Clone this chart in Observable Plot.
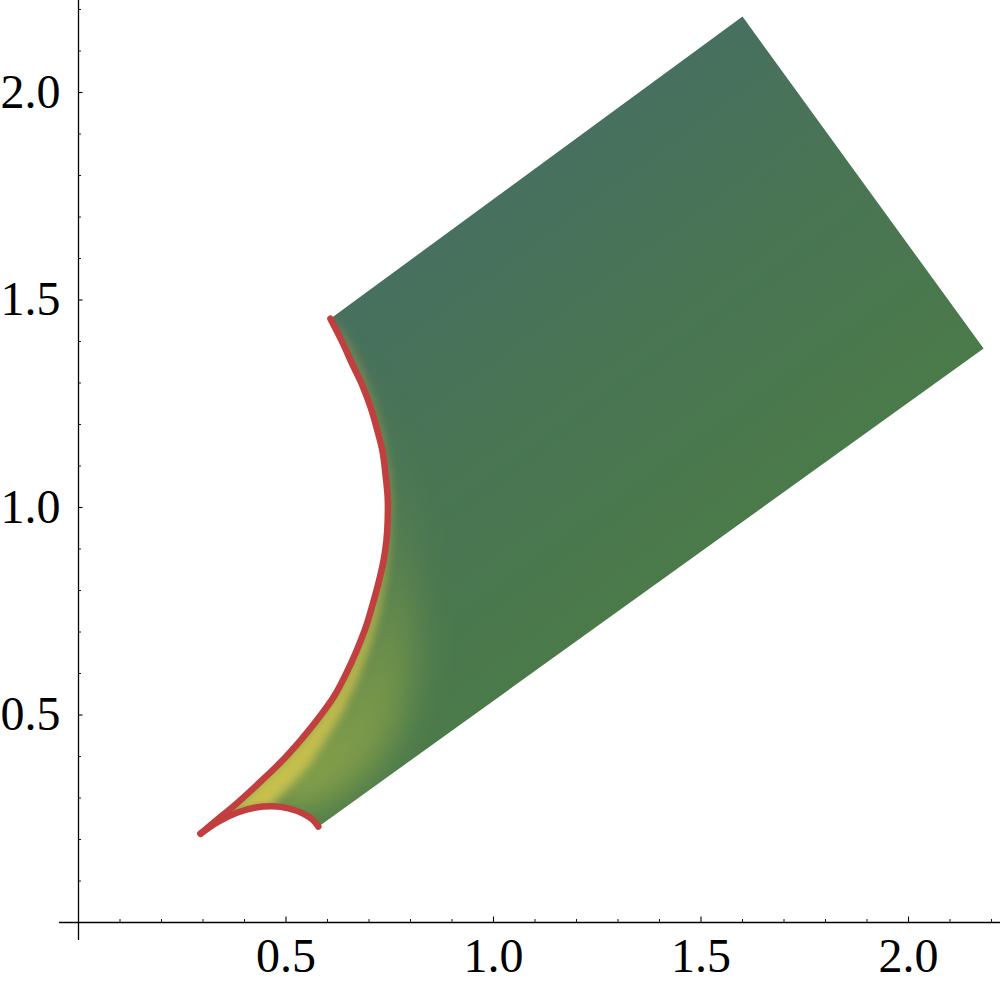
<!DOCTYPE html>
<html>
<head>
<meta charset="utf-8">
<script src="https://cdn.jsdelivr.net/npm/d3@7"></script>
<script src="https://cdn.jsdelivr.net/npm/@observablehq/plot@0.6"></script>
<style>
  html, body { margin: 0; padding: 0; background: #fff; }
  svg { display: block; }
</style>
</head>
<body>
<div id="chart"></div>
<script>
// ---- Data (data units) ----
// Red boundary curve, from the upper-left vertex down to the lower-left cusp
const leftCurve = [
  [0.607, 1.455], [0.634, 1.402], [0.660, 1.345], [0.684, 1.294], [0.704, 1.241],
  [0.720, 1.186], [0.733, 1.133], [0.740, 1.077], [0.745, 1.024], [0.745, 0.969],
  [0.742, 0.920], [0.735, 0.872], [0.723, 0.819], [0.708, 0.764], [0.692, 0.711],
  [0.670, 0.655], [0.646, 0.602], [0.617, 0.547], [0.578, 0.492], [0.535, 0.439],
  [0.487, 0.386], [0.434, 0.335], [0.378, 0.284], [0.328, 0.243], [0.294, 0.214]
];
// Small red arc from the cusp to the lower corner of the region
const bumpCurve = [
  [0.294, 0.214], [0.337, 0.243], [0.383, 0.265], [0.427, 0.277], [0.467, 0.280],
  [0.506, 0.275], [0.540, 0.263], [0.564, 0.248], [0.578, 0.231]
];
// Outer corners of the region (top, right)
const outerCorners = [[1.600, 2.183], [2.181, 1.383]];
// Where the yellow-green tint fades into the green (top to bottom)
const glowEdge = [
  [0.617, 1.455], [0.700, 1.294], [0.760, 1.133], [0.790, 0.969], [0.805, 0.824],
  [0.812, 0.680], [0.800, 0.559], [0.765, 0.451], [0.700, 0.360], [0.620, 0.300],
  [0.545, 0.262]
];
// Inner edge of the bright yellow strip along the red curve (bottom to top)
const brightEdge = [
  [0.475, 0.294], [0.511, 0.330], [0.555, 0.378], [0.596, 0.439], [0.636, 0.506],
  [0.672, 0.583], [0.703, 0.667], [0.726, 0.752], [0.742, 0.836], [0.752, 0.920],
  [0.755, 1.005], [0.749, 1.089], [0.735, 1.173], [0.711, 1.258], [0.678, 1.342],
  [0.642, 1.414], [0.612, 1.455]
];
// Axis ticks
const xMajorTicks = [0.5, 1.0, 1.5, 2.0];
const xTickLabels = ["0.5", "1.0", "1.5", "2.0"];
const yMajorTicks = [0.5, 1.0, 1.5, 2.0];
const yTickLabels = ["0.5", "1.0", "1.5", "2.0"];
const minorTicks = [0.1,0.2,0.3,0.4,0.6,0.7,0.8,0.9,1.1,1.2,1.3,1.4,1.6,1.7,1.8,1.9,2.1,2.2];

// ---- Layout ----
const W = 1000, H = 987;
const k = 415;              // pixels per data unit (same on both axes)
const x0px = 78, y0px = 922; // pixel position of the origin
const xDomain = [-x0px / k, (W - x0px) / k];
const yDomain = [-(H - y0px) / k, y0px / k];
const u = px => px / k;      // pixel length -> data length

const pts = a => a.map(([x, y]) => ({x, y}));
const region = pts([leftCurve[0], ...outerCorners, ...bumpCurve.slice().reverse(), ...leftCurve.slice().reverse()]);
const glowBand = pts([...leftCurve, ...bumpCurve.slice(0, 7), ...glowEdge.slice().reverse()]);
const brightBand = pts([...leftCurve, ...bumpCurve.slice(0, 5), ...brightEdge]);

const serif = "'Liberation Serif', 'Times New Roman', Times, serif";

const svg = Plot.plot({
  width: W, height: H,
  marginTop: 0, marginRight: 0, marginBottom: 0, marginLeft: 0,
  x: {domain: xDomain, axis: null},
  y: {domain: yDomain, axis: null},
  style: {background: "#fff"},
  marks: [
    Plot.line(region, {x: "x", y: "y", fill: "url(#regionGrad)", stroke: "none"}),
    Plot.line(glowBand, {x: "x", y: "y", fill: "url(#glowGrad)", stroke: "none"}),
    Plot.line(brightBand, {x: "x", y: "y", fill: "url(#brightGrad)", stroke: "none"}),
    Plot.line(pts(leftCurve), {x: "x", y: "y", curve: "catmull-rom", stroke: "#c13f3e", strokeWidth: 6.5, strokeLinecap: "round"}),
    Plot.line(pts(bumpCurve), {x: "x", y: "y", curve: "catmull-rom", stroke: "#c13f3e", strokeWidth: 6.5, strokeLinecap: "round"}),
    // axes lines
    Plot.ruleY([0], {x1: u(59 - x0px), x2: xDomain[1], stroke: "#000", strokeWidth: 1.3}),
    Plot.ruleX([0], {y1: u(y0px - 940), y2: yDomain[1], stroke: "#000", strokeWidth: 1.3}),
    // x ticks (pointing up)
    Plot.ruleX(xMajorTicks, {x: d => d, y1: 0, y2: u(5.5), stroke: "#000", strokeWidth: 1.1}),
    Plot.ruleX(minorTicks, {x: d => d, y1: 0, y2: u(3), stroke: "#000", strokeWidth: 0.9}),
    // y ticks (pointing right)
    Plot.ruleY(yMajorTicks, {y: d => d, x1: 0, x2: u(4.5), stroke: "#000", strokeWidth: 1.1}),
    Plot.ruleY(minorTicks, {y: d => d, x1: 0, x2: u(3), stroke: "#000", strokeWidth: 0.9}),
    // tick labels
    Plot.text(xMajorTicks, {x: d => d, y: 0, text: (d, i) => xTickLabels[i], dy: 34, fontSize: 48, fontFamily: serif, fill: "#000"}),
    Plot.text(yMajorTicks, {x: 0, y: d => d, text: (d, i) => yTickLabels[i], dx: -18, textAnchor: "end", fontSize: 48, fontFamily: serif, fill: "#000"})
  ]
});

// ---- Paint definitions (gradients, blur, clip) ----
const s = d3.select(svg);
const defs = s.insert("defs", ":first-child");

const rg = defs.append("linearGradient").attr("id", "regionGrad")
  .attr("gradientUnits", "userSpaceOnUse")
  .attr("x1", 536).attr("y1", 167).attr("x2", 779).attr("y2", 498);
[[0, "#47705f"], [0.45, "#497554"], [1, "#4b7a4a"]].forEach(([o, c]) =>
  rg.append("stop").attr("offset", o).attr("stop-color", c));

const gg = defs.append("linearGradient").attr("id", "glowGrad")
  .attr("gradientUnits", "userSpaceOnUse")
  .attr("x1", 0).attr("y1", 318).attr("x2", 0).attr("y2", 830);
[[0, "#6f9245", 0.1], [0.4, "#86a145", 0.3], [0.75, "#9cb046", 0.55], [1, "#a9b848", 0.7]].forEach(([o, c, a]) =>
  gg.append("stop").attr("offset", o).attr("stop-color", c).attr("stop-opacity", a));

const bg = defs.append("linearGradient").attr("id", "brightGrad")
  .attr("gradientUnits", "userSpaceOnUse")
  .attr("x1", 0).attr("y1", 318).attr("x2", 0).attr("y2", 830);
[[0, "#c8a848", 0.45], [0.5, "#cfbf4c", 0.7], [1, "#d4c84f", 0.9]].forEach(([o, c, a]) =>
  bg.append("stop").attr("offset", o).attr("stop-color", c).attr("stop-opacity", a));

const f1 = defs.append("filter").attr("id", "blurWide")
  .attr("x", "-50%").attr("y", "-50%").attr("width", "200%").attr("height", "200%");
f1.append("feGaussianBlur").attr("stdDeviation", 18);
const f2 = defs.append("filter").attr("id", "blurNarrow")
  .attr("x", "-50%").attr("y", "-50%").attr("width", "200%").attr("height", "200%");
f2.append("feGaussianBlur").attr("stdDeviation", 4);

const regionG = s.select('g[fill="url(#regionGrad)"]');
const regionPath = regionG.select("path");
defs.append("clipPath").attr("id", "regionClip")
  .append("path").attr("d", regionPath.attr("d"));

s.select('g[fill="url(#glowGrad)"]').attr("filter", "url(#blurWide)").attr("clip-path", "url(#regionClip)");
s.select('g[fill="url(#brightGrad)"]').attr("filter", "url(#blurNarrow)").attr("clip-path", "url(#regionClip)");

document.getElementById("chart").appendChild(svg);
</script>
</body>
</html>
